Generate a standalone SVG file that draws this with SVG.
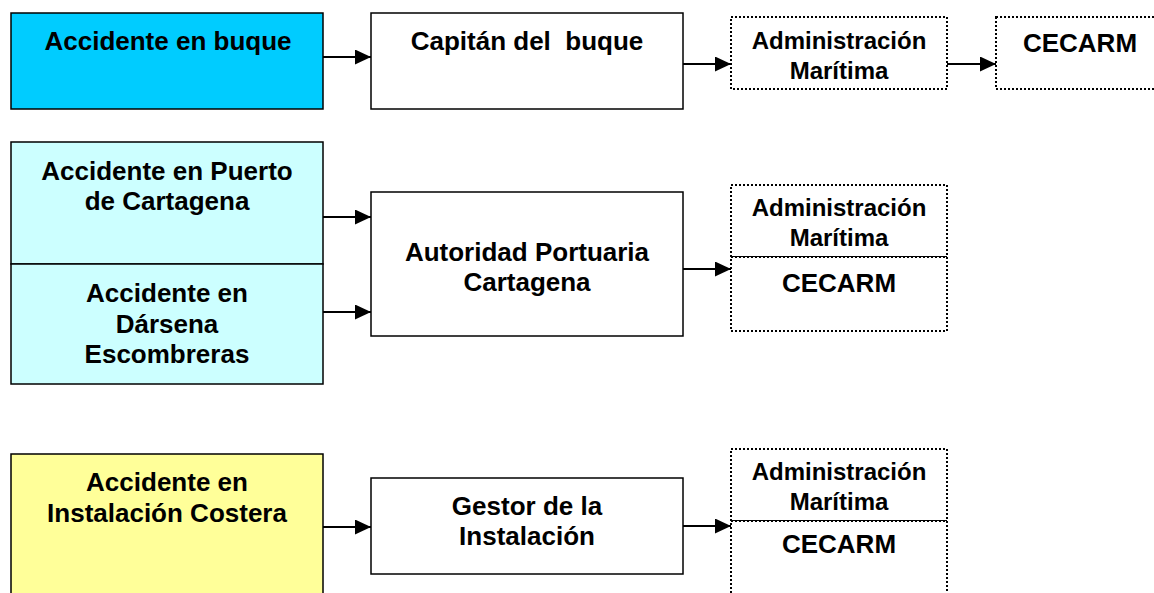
<svg xmlns="http://www.w3.org/2000/svg" width="1154" height="593" viewBox="0 0 1154 593">
<style>
  .box{stroke:#000;stroke-width:1.5;}
  .dot{fill:#fff;stroke:#000;stroke-width:2;stroke-dasharray:2 2;}
  .t{font-family:"Liberation Sans",Arial,sans-serif;font-weight:bold;font-size:26px;fill:#000;text-anchor:middle;white-space:pre;}
  .s{font-size:24px;}
  .conn{stroke:#000;stroke-width:1.8;fill:none;marker-end:url(#ah);}
</style>
<defs>
  <marker id="ah" markerUnits="userSpaceOnUse" markerWidth="16" markerHeight="15" refX="16" refY="7.5" orient="auto">
    <path d="M0,0 L16,7.5 L0,15 z" fill="#000"/>
  </marker>
</defs>
<rect width="1154" height="593" fill="#fff"/>

<g id="accidente-buque">
  <rect class="box" x="11" y="13" width="312" height="96" fill="#00CCFF"/>
  <text class="t" x="168" y="50">Accidente en buque</text>
</g>
<g id="capitan">
  <rect class="box" x="371" y="13" width="312" height="96" fill="#fff"/>
  <text class="t" x="527" y="50" xml:space="preserve">Capitán del  buque</text>
</g>
<g id="admin1">
  <rect class="dot" x="731" y="17" width="216" height="72"/>
  <text class="t s" x="839" y="49">Administración</text>
  <text class="t s" x="839" y="78.5">Marítima</text>
</g>
<g id="cecarm1">
  <rect class="dot" x="996" y="17" width="175" height="72"/>
  <text class="t" x="1080" y="52">CECARM</text>
</g>

<g id="accidente-puerto">
  <rect class="box" x="11" y="142" width="312" height="122" fill="#CCFFFF"/>
  <text class="t" x="167" y="180">Accidente en Puerto</text>
  <text class="t" x="167" y="210">de Cartagena</text>
</g>
<g id="accidente-darsena">
  <rect class="box" x="11" y="264" width="312" height="120" fill="#CCFFFF"/>
  <text class="t" x="167" y="302">Accidente en</text>
  <text class="t" x="167" y="332.5">Dársena</text>
  <text class="t" x="167" y="363">Escombreras</text>
</g>
<g id="autoridad">
  <rect class="box" x="371" y="192" width="312" height="144" fill="#fff"/>
  <text class="t" x="527" y="260.5">Autoridad Portuaria</text>
  <text class="t" x="527" y="291">Cartagena</text>
</g>
<g id="admin2">
  <rect class="dot" x="731" y="185" width="216" height="72"/>
  <text class="t s" x="839" y="216">Administración</text>
  <text class="t s" x="839" y="245.5">Marítima</text>
</g>
<g id="cecarm2">
  <rect class="dot" x="731" y="257" width="216" height="74"/>
  <text class="t" x="839" y="292">CECARM</text>
</g>

<g id="accidente-instalacion">
  <rect class="box" x="11" y="454" width="312" height="150" fill="#FFFF99"/>
  <text class="t" x="167" y="491">Accidente en</text>
  <text class="t" x="167" y="521.5">Instalación Costera</text>
</g>
<g id="gestor">
  <rect class="box" x="371" y="478" width="312" height="96" fill="#fff"/>
  <text class="t" x="527" y="515">Gestor de la</text>
  <text class="t" x="527" y="545">Instalación</text>
</g>
<g id="admin3">
  <rect class="dot" x="731" y="449" width="216" height="72"/>
  <text class="t s" x="839" y="480">Administración</text>
  <text class="t s" x="839" y="509.5">Marítima</text>
</g>
<g id="cecarm3">
  <rect class="dot" x="731" y="521" width="216" height="90"/>
  <text class="t" x="839" y="553">CECARM</text>
</g>

<g id="connectors">
  <path class="conn" d="M323,57 H371"/>
  <path class="conn" d="M683,64 H731"/>
  <path class="conn" d="M947,64 H996"/>
  <path class="conn" d="M323,217 H371"/>
  <path class="conn" d="M323,312 H371"/>
  <path class="conn" d="M683,269 H731"/>
  <path class="conn" d="M323,527 H371"/>
  <path class="conn" d="M683,526 H731"/>
</g>
</svg>
